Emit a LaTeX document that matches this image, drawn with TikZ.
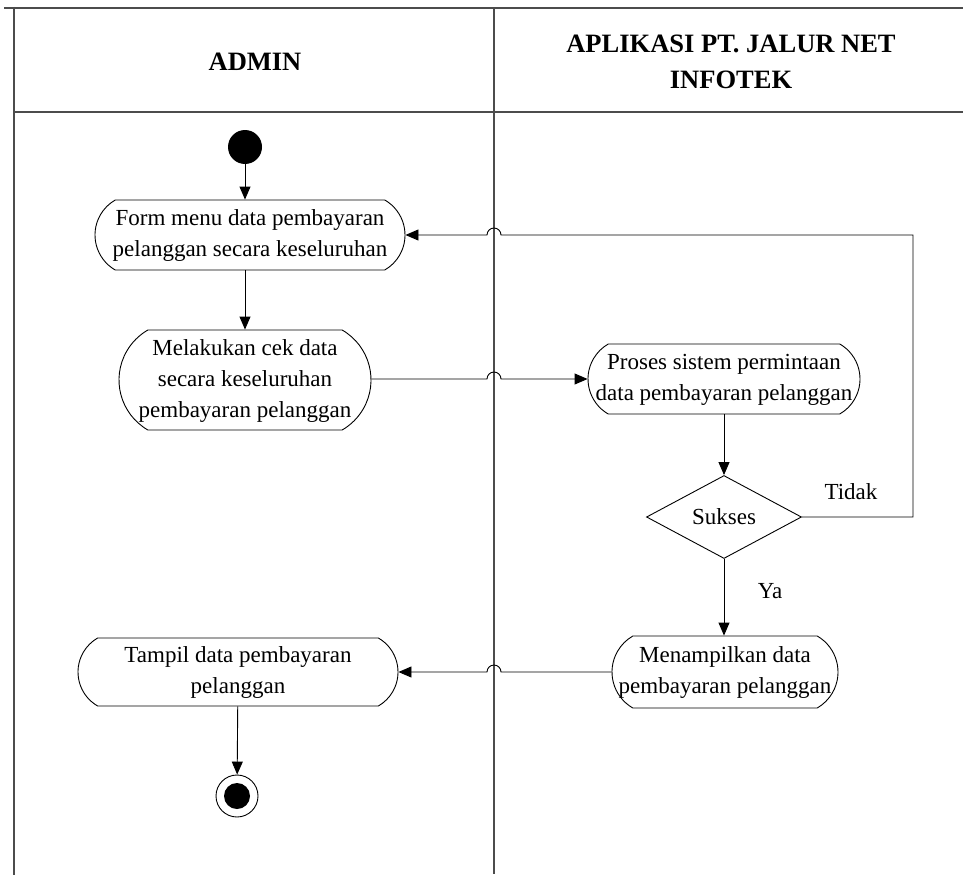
\documentclass[tikz,border=0pt]{standalone}
\usepackage{fontspec}
\setmainfont{Liberation Serif}
\usetikzlibrary{arrows.meta,shapes.misc,shapes.geometric}
\newcommand{\actext}[1]{\makebox[0pt]{\begin{tabular}{@{}c@{}}#1\end{tabular}}}
\begin{document}
\begin{tikzpicture}[x=1pt,y=-1pt,
	lane/.style={line width=1.5pt,black!70},
	head/.style={font=\fontsize{26.5pt}{36pt}\selectfont\bfseries,align=center},
	act/.style={rounded rectangle,rounded rectangle arc length=120,draw,line width=0.9pt,
		inner sep=0pt,font=\fontsize{23pt}{31pt}\selectfont},
	decide/.style={diamond,draw,line width=0.9pt,inner sep=0pt,aspect=1.87,
		minimum width=155pt,minimum height=83pt,font=\fontsize{23pt}{31pt}\selectfont},
	startnode/.style={circle,fill,inner sep=0pt,minimum size=34pt},
	endnode/.style={circle,draw,line width=0.9pt,inner sep=0pt,minimum size=42pt,
		path picture={\fill (path picture bounding box.center) circle (13pt);}},
	flow/.style={line width=0.9pt,-{Triangle[length=13pt,width=11pt]}},
	lbl/.style={font=\fontsize{23pt}{31pt}\selectfont}]
	\useasboundingbox (0,0) rectangle (963,875);

	\draw[lane]
	(4,8)--(963,8)
	(14,7)--(14,875)
	(14,112)--(963,112)
	(494,8)--(494,874);

	\node[head] (admin) at (255,62) {ADMIN};
	\node[head] (app) at (731,62) {APLIKASI PT. JALUR NET\\INFOTEK};

	\node[startnode] (start) at (245,147) {};
	\node[act,minimum width=310pt,minimum height=70pt] (form) at (250,235)
		{\actext{Form menu data pembayaran\\pelanggan secara keseluruhan}};
	\node[act,minimum width=252pt,minimum height=100pt] (cek) at (245,380)
		{\actext{Melakukan cek data\\secara keseluruhan\\pembayaran pelanggan}};
	\node[act,minimum width=272pt,minimum height=70pt] (proses) at (724,379)
		{\actext{Proses sistem permintaan\\data pembayaran pelanggan}};
	\node[decide] (sukses) at (724,517) {Sukses};
	\node[act,minimum width=226pt,minimum height=72pt] (tampilkan) at (725,672)
		{\actext{Menampilkan data\\pembayaran pelanggan}};
	\node[act,minimum width=320pt,minimum height=68pt] (tampil) at (238,672)
		{\actext{Tampil data pembayaran\\pelanggan}};
	\node[endnode] (end) at (237,796) {};

	\draw[flow] (start)--(start|-form.north);
	\draw[flow] (form.south-|start)--(start|-cek.north);
	\draw[flow] (cek.east|-proses.west)--(487,379) arc[start angle=180,end angle=0,radius=7pt]--(proses.west);
	\draw[flow] (proses)--(sukses);
	\draw[flow] (sukses.east)--(913,517)--(913,235)--(501,235)
		arc[start angle=0,end angle=180,radius=7pt]--(form.east);
	\draw[flow] (sukses)--(sukses|-tampilkan.north);
	\draw[flow] (tampilkan.west)--(501,672) arc[start angle=0,end angle=180,radius=7pt]--(tampil.east);
	\draw[flow] (tampil)--(end);

	\node[lbl] (tidak) at (851,492) {Tidak};
	\node[lbl] (ya) at (770,591) {Ya};
\end{tikzpicture}
\end{document}
